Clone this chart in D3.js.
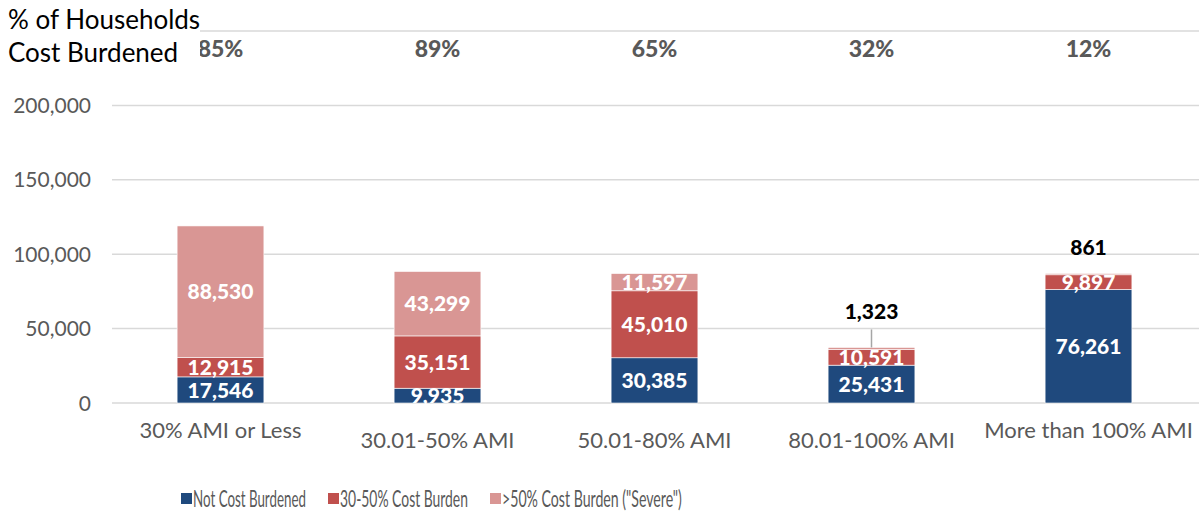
<!DOCTYPE html>
<html><head><meta charset="utf-8">
<script src="https://cdn.jsdelivr.net/npm/d3@7"></script>
<style>body{margin:0;background:#fff}svg{display:block;font-family:Lato,"Open Sans",sans-serif}</style>
</head><body><svg id="c" width="1199" height="515"></svg>
<script>
const categories = ["30% AMI or Less","30.01-50% AMI","50.01-80% AMI","80.01-100% AMI","More than 100% AMI"];
const notBurdened = [17546, 9935, 30385, 25431, 76261];
const moderate = [12915, 35151, 45010, 10591, 9897];
const severe = [88530, 43299, 11597, 1323, 861];
const pctBurdened = ["85%","89%","65%","32%","12%"];
const seriesNames = ["Not Cost Burdened","30-50% Cost Burden",">50% Cost Burden (\"Severe\")"];
const yTicks = [0, 50000, 100000, 150000, 200000, 250000];
const colors = ["#1f497d","#c0504d","#d99694"];

const svg = d3.select("#c");
const x = d3.scaleBand().domain(categories).range([112,1197]).paddingInner(0.6).paddingOuter(0.3);
const y = d3.scaleLinear().domain([0,250000]).range([403,31]);
const fmt = d3.format(",");

// gridlines
svg.append("g").selectAll("line").data(yTicks).join("line")
  .attr("x1",112).attr("x2",1199)
  .attr("y1",d=>y(d)).attr("y2",d=>y(d))
  .attr("stroke","#d9d9d9").attr("stroke-width",1.5);

// y axis labels
svg.append("g").selectAll("text").data(yTicks.filter(d=>d<250000)).join("text")
  .attr("x",91).attr("y",d=>y(d)).attr("dy","0.36em")
  .attr("text-anchor","end").attr("fill","#595959").attr("font-size",21)
  .text(d=>fmt(d));

const rows = categories.map((c,i)=>({cat:c,nb:notBurdened[i],mod:moderate[i],sev:severe[i]}));
const stack = d3.stack().keys(["nb","mod","sev"])(rows);

const g = svg.append("g");
stack.forEach((s,si)=>{
  g.append("g").selectAll("rect").data(s).join("rect")
    .attr("x",d=>x(d.data.cat)).attr("width",x.bandwidth())
    .attr("y",d=>y(d[1])).attr("height",d=>y(d[0])-y(d[1]))
    .attr("fill",colors[si]).attr("stroke","#fff").attr("stroke-width",0.6);
});

// data labels
stack.forEach((s,si)=>{
  s.forEach((d,i)=>{
    const v = d[1]-d[0];
    const cx = x(d.data.cat)+x.bandwidth()/2;
    const inside = (y(d[0])-y(d[1])) > 8;
    if (inside) {
      g.append("text").attr("x",cx).attr("y",(y(d[0])+y(d[1]))/2).attr("dy","0.36em")
        .attr("text-anchor","middle").attr("fill","#fff").attr("font-weight","900").attr("font-size",21)
        .text(fmt(v));
    } else {
      const top = y(d[1]);
      const off = i===3 ? 36 : 26;
      if (i===3) {
        g.append("line").attr("x1",cx).attr("x2",cx).attr("y1",top).attr("y2",top-18)
          .attr("stroke","#a6a6a6").attr("stroke-width",1.5);
      }
      g.append("text").attr("x",cx).attr("y",top-off).attr("dy","0.36em")
        .attr("text-anchor","middle").attr("fill","#000").attr("font-weight","900").attr("font-size",21)
        .text(fmt(v));
    }
  });
});

// category labels
svg.append("g").selectAll("text").data(categories).join("text")
  .attr("x",d=>x(d)+x.bandwidth()/2)
  .attr("y",(d,i)=> (i===0||i===categories.length-1) ? 438 : 448)
  .attr("text-anchor","middle").attr("fill","#595959").attr("font-size",22)
  .text(d=>d);

// percent labels
svg.append("g").selectAll("text").data(pctBurdened).join("text")
  .attr("x",(d,i)=>x(categories[i])+x.bandwidth()/2).attr("y",57)
  .attr("text-anchor","middle").attr("fill","#595959").attr("font-weight","900").attr("font-size",23)
  .text(d=>d);

// title
svg.append("rect").attr("x",0).attr("y",0).attr("width",200).attr("height",70).attr("fill","#fff");
const t = svg.append("text").attr("x",8).attr("fill","#000").attr("font-size",26);
t.append("tspan").attr("x",8).attr("y",29).text("% of Households");
t.append("tspan").attr("x",8).attr("y",62).text("Cost Burdened");

// legend (condensed text, scaled horizontally)
const lx = [181, 328, 490];
const lw = [113, 128, 180];
const lg = svg.append("g");
seriesNames.forEach((n,i)=>{
  lg.append("rect").attr("x",lx[i]).attr("y",493).attr("width",11).attr("height",11).attr("fill",colors[i]);
  const tg = lg.append("g");
  const tx = tg.append("text").attr("x",0).attr("y",0).attr("fill","#595959").attr("font-size",23).text(n);
  const w = tx.node().getComputedTextLength();
  tg.attr("transform",`translate(${lx[i]+12},507) scale(${lw[i]/w},1)`);
});
</script></body></html>
